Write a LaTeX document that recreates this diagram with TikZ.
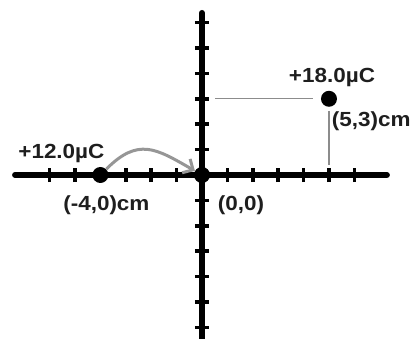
\documentclass[tikz,border=0pt]{standalone}
\usepackage{fontspec}
\setmainfont{Liberation Sans}[FakeStretch=1.1]
\usepackage{tikz}
\definecolor{pfeilgrau}{RGB}{150,150,150}
\definecolor{liniengrau}{RGB}{140,140,140}
\definecolor{textschwarz}{RGB}{30,30,30}
\usetikzlibrary{arrows.meta, positioning}

\begin{document}
\begin{tikzpicture}[x=25.4bp, y=25.4bp,
		ladung/.style={circle, fill=black, inner sep=0pt, minimum size=16bp},
		beschr/.style={text=textschwarz, inner sep=3pt, font=\bfseries\fontsize{20.5}{24}\selectfont},
		hilfslinie/.style={liniengrau, line width=1.2bp},
		bewegung/.style={pfeilgrau, line width=3bp, -{Straight Barb[length=8bp, width=16bp, line width=3bp]}}]
		%Bildbereich
		\useasboundingbox (-7.953,-6.457) rectangle (8.465,6.89);
		% Achsen zeichnen
		\coordinate (xl) at (-7.36,0);
		\coordinate (xr) at (7.28,0);
		\coordinate (yo) at (0,6.38);
		\coordinate (yu) at (0,-6.6);
		\draw[line width=6bp, line cap=round] (xl) -- (xr);
		\draw[line width=6bp, line cap=round] (yo) -- (yu);
		% Striche
		\foreach \x in {-6,...,6} \draw[line width=3.5bp] (\x,-.28) -- (\x,.28);
		\foreach \y in {-6,...,6} \draw[line width=3.5bp] (-.28,\y) -- (.28,\y);
		% Ladungen
		\node[ladung] (O) at (0,0) {};
		\node[ladung] (q1) at (-4,0) {};
		\node[ladung] (q2) at (5,3) {};
		%Hilfslinien
		\coordinate (y3) at (0.51,3);
		\coordinate (x5) at (5,0.39);
		\draw[hilfslinie, shorten <=8bp] (q2) -- (y3);
		\draw[hilfslinie, shorten <=4bp] (q2) -- (x5);
		%Beschriftung
		\node[beschr, above=1bp of q2, xshift=3bp] (l18) {+18.0µC};
		\node[beschr, below right=4bp and -6bp of q2] (p53) {(5,3)cm};
		\node[beschr, above=1bp of q1, xshift=-39bp] (l12) {+12.0µC};
		\node[beschr, below=9bp of q1, xshift=6bp] (p40) {(-4,0)cm};
		\node[beschr, below right=12bp and 7bp of O] (p00) {(0,0)};
		% Pfeil
		\draw[bewegung] (q1) to[out=45, in=150, looseness=1.3] (O);
	\end{tikzpicture}
\end{document}
